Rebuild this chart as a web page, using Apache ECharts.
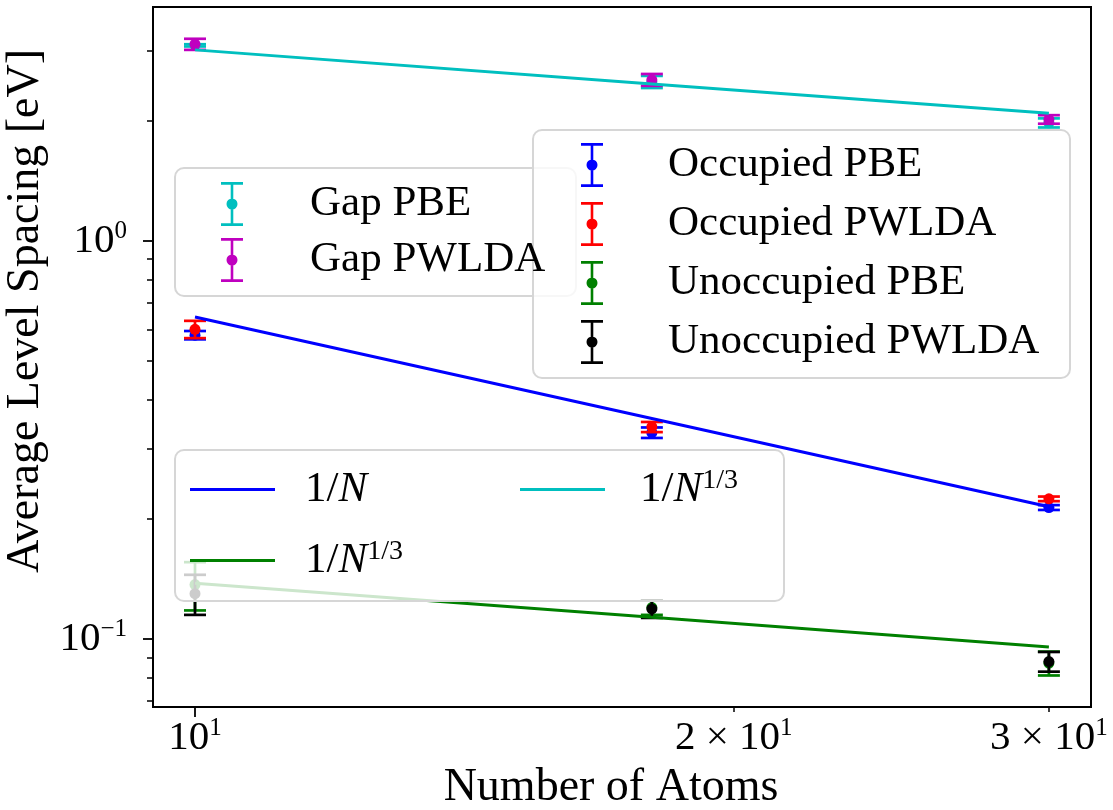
<!DOCTYPE html>
<html><head><meta charset="utf-8">
<script src="https://cdn.jsdelivr.net/npm/echarts@6/dist/echarts.min.js"></script>
<style>html,body{margin:0;padding:0;background:#fff}#c{width:1113px;height:810px}</style>
</head><body><div id="c"></div>
<script>
// ---- data ----
const atoms = [10, 18, 30];
const gapPBE = [3.10, 2.51, 1.98];
const gapPBEErr = [0.02, 0.088, 0.052];
const gapPWLDA = [3.12, 2.54, 2.02];
const gapPWLDAErr = [0.10, 0.087, 0.05];
const occPBE = [0.580, 0.330, 0.214];
const occPBEErr = [0.014, 0.010, 0.003];
const occPWLDA = [0.600, 0.341, 0.225];
const occPWLDAErr = [0.030, 0.010, 0.003];
const unoccPBE = [0.137, 0.120, 0.087];
const unoccPBEErr = [0.019, 0.005, 0.006];
const unoccPWLDA = [0.130, 0.119, 0.0878];
const unoccPWLDAErr = [0.015, 0.006, 0.005];
const fitOcc = [0.644, 0.358, 0.215];
const fitGap = [3.02, 2.48, 2.094];
const fitUnocc = [0.138, 0.1135, 0.0955];
const xTickValues = [10, 20, 30];
const xTickMantissas = ['', '2 × ', '3 × '];
const xTickExponents = ['1', '1', '1'];
const xMinorTicks = [20, 30];
const yTickValues = [0.1, 1];
const yTickExponents = ['−1', '0'];
const yMinorTicks = [0.07, 0.08, 0.09, 0.2, 0.3, 0.4, 0.5, 0.6, 0.7, 0.8, 0.9, 2, 3];
const xRange = [9.474, 31.67];
const yRange = [0.0675, 3.87];

const F = '"Liberation Serif", "DejaVu Serif", serif';
const EB = 'path://M0,0H22V2.8H0Z M9.7,0H12.3V44H9.7Z M0,41.2H22V44H0Z M5.5,22A5.5,5.5,0,1,1,16.5,22A5.5,5.5,0,1,1,5.5,22Z';

function errSeries(name, color, vals, errs) {
  return {
    type: 'custom', name: name, coordinateSystem: 'cartesian2d', z: 2,
    itemStyle: { color: color },
    data: atoms.map((x, i) => [x, vals[i], errs[i]]),
    encode: { x: 0, y: 1 },
    renderItem: function (params, api) {
      const x = api.value(0), y = api.value(1), e = api.value(2);
      const c = api.coord([x, y]), t = api.coord([x, y + e]), b = api.coord([x, y - e]);
      const st = { stroke: color, lineWidth: 2.7 };
      return { type: 'group', children: [
        { type: 'line', shape: { x1: c[0], y1: t[1], x2: c[0], y2: b[1] }, style: st },
        { type: 'line', shape: { x1: c[0] - 11, y1: t[1], x2: c[0] + 11, y2: t[1] }, style: st },
        { type: 'line', shape: { x1: c[0] - 11, y1: b[1], x2: c[0] + 11, y2: b[1] }, style: st },
        { type: 'circle', shape: { cx: c[0], cy: c[1], r: 5.5 }, style: { fill: color } }
      ] };
    }
  };
}
function fitSeries(name, color, vals) {
  return {
    type: 'line', name: name, z: 3, showSymbol: false, symbol: 'none',
    color: color, itemStyle: { color: color },
    lineStyle: { color: color, width: 3 },
    data: atoms.map((x, i) => [x, vals[i]])
  };
}

const fitLabels = {
  fitOcc: '{r|1/}{i|N}',
  fitGap: '{r|1/}{i|N}{s|1/3}',
  fitUnocc: '{r|1/}{i|N}{s|1/3}'
};
const legendBox = {
  backgroundColor: 'rgba(255,255,255,0.8)', borderColor: '#d6d6d6', borderWidth: 2,
  borderRadius: 9, selectedMode: false
};

const tickRich = {
  b: { fontFamily: F, fontSize: 41, lineHeight: 44, color: '#000' },
  s: { fontFamily: F, fontSize: 25, lineHeight: 25, padding: [0, 0, 19, 0], color: '#000' }
};

const option = {
  animation: false,
  backgroundColor: '#fff',
  grid: { left: 153, top: 7, right: 22, bottom: 103, show: true, borderColor: '#000', borderWidth: 2,
          containLabel: false, outerBoundsMode: 'none' },
  xAxis: [{
    type: 'log', min: xRange[0], max: xRange[1], position: 'bottom',
    name: 'Number of Atoms', nameLocation: 'middle', nameGap: 56,
    nameTextStyle: { fontFamily: F, fontSize: 46, color: '#000', padding: [0, 22, 0, 0] },
    axisLine: { show: false }, splitLine: { show: false }, minorTick: { show: false },
    axisTick: { show: true, customValues: [xTickValues[0]], length: 10, lineStyle: { color: '#000', width: 1.8 } },
    axisLabel: {
      customValues: xTickValues, margin: 9, rich: tickRich,
      formatter: function (v) {
        const i = xTickValues.findIndex(t => Math.abs(t - v) < 1e-6 * t);
        return i < 0 ? '' : '{b|' + xTickMantissas[i] + '10}{s|' + xTickExponents[i] + '}';
      }
    }
  }, {
    type: 'log', min: xRange[0], max: xRange[1], position: 'bottom',
    axisLine: { show: false }, splitLine: { show: false }, axisLabel: { show: false },
    axisTick: { show: true, customValues: xMinorTicks, length: 5, lineStyle: { color: '#000', width: 1.5 } }
  }],
  yAxis: [{
    type: 'log', min: yRange[0], max: yRange[1], position: 'left',
    name: 'Average Level Spacing [eV]', nameLocation: 'middle', nameGap: 86, nameRotate: 90,
    nameTextStyle: { fontFamily: F, fontSize: 46, color: '#000', padding: [0, 0, 0, 92] },
    axisLine: { show: false }, splitLine: { show: false }, minorTick: { show: false },
    axisTick: { show: true, customValues: yTickValues, length: 10, lineStyle: { color: '#000', width: 1.8 } },
    axisLabel: {
      customValues: yTickValues, margin: 26, rich: tickRich,
      formatter: function (v) {
        const i = yTickValues.findIndex(t => Math.abs(t - v) < 1e-6 * t);
        return i < 0 ? '' : '{b|10}{s|' + yTickExponents[i] + '}';
      }
    }
  }, {
    type: 'log', min: yRange[0], max: yRange[1], position: 'left',
    axisLine: { show: false }, splitLine: { show: false }, axisLabel: { show: false },
    axisTick: { show: true, customValues: yMinorTicks, length: 6, lineStyle: { color: '#000', width: 1.5 } }
  }],
  legend: [
    Object.assign({
      left: 175, top: 168, orient: 'vertical',
      data: [{ name: 'Gap PBE', icon: EB }, { name: 'Gap PWLDA', icon: EB }],
      itemWidth: 70, itemHeight: 44, itemGap: 12, padding: [14, 0, 14, 46],
      textStyle: { fontFamily: F, fontSize: 43, color: '#000', padding: [0, 0, 0, 38], width: 266, lineHeight: 44 }
    }, legendBox),
    Object.assign({
      left: 533, top: 130, orient: 'vertical',
      data: [{ name: 'Occupied PBE', icon: EB }, { name: 'Occupied PWLDA', icon: EB },
             { name: 'Unoccupied PBE', icon: EB }, { name: 'Unoccupied PWLDA', icon: EB }],
      itemWidth: 70, itemHeight: 44, itemGap: 15, padding: [13, 0, 14, 48],
      textStyle: { fontFamily: F, fontSize: 43, color: '#000', padding: [0, 0, 0, 36], width: 402, lineHeight: 44 }
    }, legendBox),
    Object.assign({
      left: 175, top: 450, orient: 'horizontal', width: 600,
      data: [
        { name: 'fitOcc', icon: 'rect', textStyle: { width: 189, padding: [0, 0, 0, 25] } },
        { name: 'fitGap', icon: 'rect', textStyle: { width: 135, padding: [0, 0, 0, 30] } },
        { name: 'fitUnocc', icon: 'rect', textStyle: { padding: [0, 0, 0, 25] } }
      ],
      itemWidth: 85, itemHeight: 3, itemGap: 26, padding: [17, 9, 18, 15],
      formatter: function (n) { return fitLabels[n]; },
      textStyle: {
        fontFamily: F, fontSize: 43, color: '#000', lineHeight: 45,
        rich: {
          r: { fontFamily: F, fontSize: 43, lineHeight: 45, color: '#000' },
          i: { fontFamily: F, fontSize: 43, lineHeight: 45, fontStyle: 'italic', color: '#000' },
          s: { fontFamily: F, fontSize: 28, lineHeight: 28, padding: [0, 0, 17, 0], color: '#000' }
        }
      }
    }, legendBox)
  ],
  series: [
    errSeries('Occupied PBE', '#0000ff', occPBE, occPBEErr),
    errSeries('Occupied PWLDA', '#ff0000', occPWLDA, occPWLDAErr),
    errSeries('Unoccupied PBE', '#008000', unoccPBE, unoccPBEErr),
    errSeries('Unoccupied PWLDA', '#000000', unoccPWLDA, unoccPWLDAErr),
    errSeries('Gap PBE', '#00bfbf', gapPBE, gapPBEErr),
    errSeries('Gap PWLDA', '#bf00bf', gapPWLDA, gapPWLDAErr),
    fitSeries('fitOcc', '#0000ff', fitOcc),
    fitSeries('fitUnocc', '#008000', fitUnocc),
    fitSeries('fitGap', '#00bfbf', fitGap)
  ]
};
const chart = echarts.init(document.getElementById('c'), null, { renderer: 'canvas' });
chart.setOption(option);
</script>
</body></html>
